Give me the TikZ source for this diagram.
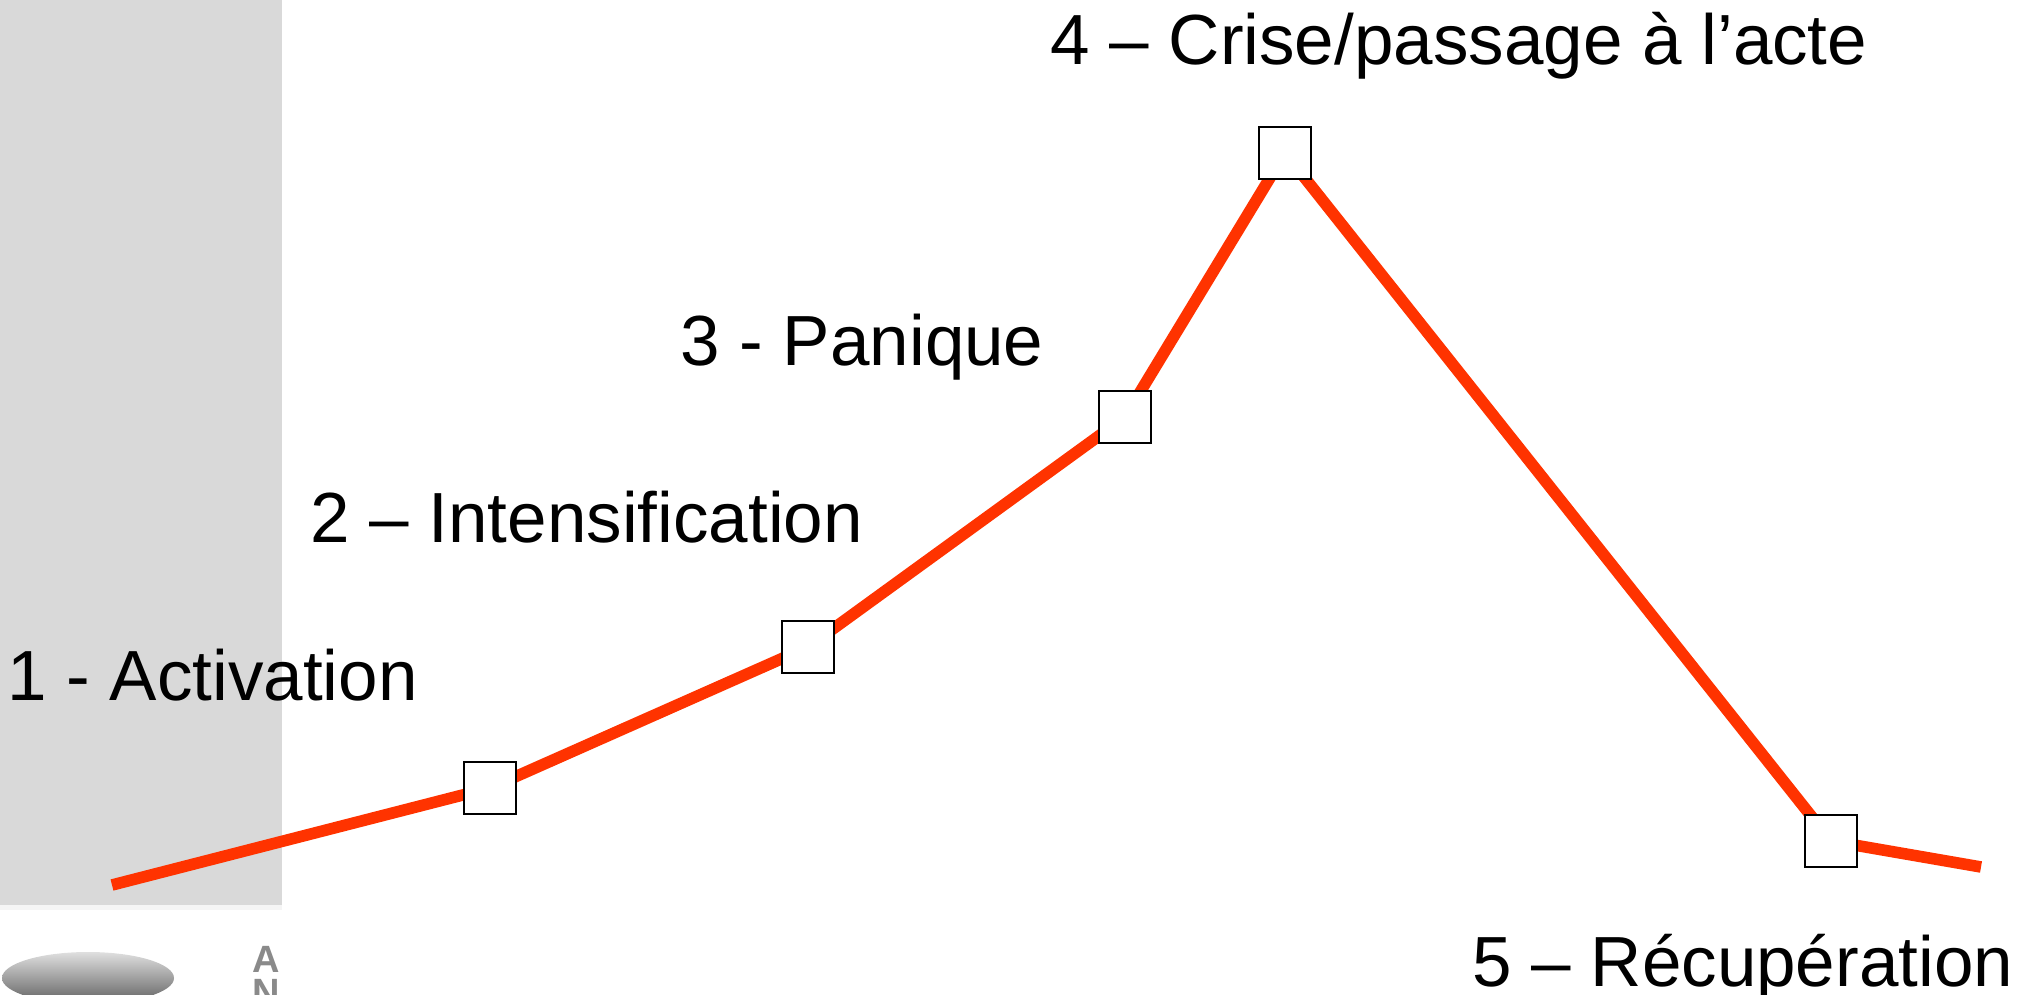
\documentclass[tikz,border=0pt]{standalone}
\usepackage{fontspec}
\setmainfont{Liberation Sans}
\usetikzlibrary{backgrounds}
\definecolor{curvered}{HTML}{FF3300}
\definecolor{panelgrey}{HTML}{D9D9D9}
\definecolor{logogrey}{HTML}{8A8A8A}
\begin{document}
\begin{tikzpicture}[x=0.5pt,y=-0.5pt,
  stage/.style={anchor=base west,inner sep=0pt,font=\fontsize{35.5}{40}\selectfont,text=black},
  mk/.style={draw=black,line width=1pt,fill=white,minimum size=26pt,inner sep=0pt,shape=rectangle},
  curve/.style={draw=curvered,line width=5.8pt,line join=miter}]
\useasboundingbox (0,0) rectangle (2030,995);
% markers
\coordinate (s) at (112,885);
\coordinate (e) at (1981,867);
\node[mk] (m1) at (490,788) {};
\node[mk] (m2) at (808,647) {};
\node[mk] (m3) at (1125,417) {};
\node[mk] (m4) at (1285,153) {};
\node[mk] (m5) at (1831,841) {};
% labels
\node[stage] (t1) at (7,700) {1 - Activation};
\node[stage] (t2) at (310,542) {2 – Intensification};
\node[stage] (t3) at (680,365) {3 - Panique};
\node[stage] (t4) at (1050,65) {4 – Crise/passage à l’acte};
\node[stage] (t5) at (1472,986) {5 – Récupération};
\begin{pgfonlayer}{background}
\fill[panelgrey] (0,0) rectangle (282,905);
\fill[gray!8] (0,905) rectangle (282,910);
\begin{scope}
\clip (0,912) rectangle (282,995);
\shade[top color=gray!25,bottom color=gray!75!black] (88,978) ellipse (86 and 26);
\node[anchor=base west,inner sep=0pt,text=logogrey,font=\bfseries\fontsize{19}{19}\selectfont] (la) at (252,972) {A};
\node[anchor=base west,inner sep=0pt,text=logogrey,font=\bfseries\fontsize{19}{19}\selectfont] (ln) at (252,1005) {N};
\end{scope}
\draw[curve] (s) -- (m1.center) -- (m2.center) -- (m3.center) -- (m4.center) -- (m5.center) -- (e);
\end{pgfonlayer}
\end{tikzpicture}
\end{document}
